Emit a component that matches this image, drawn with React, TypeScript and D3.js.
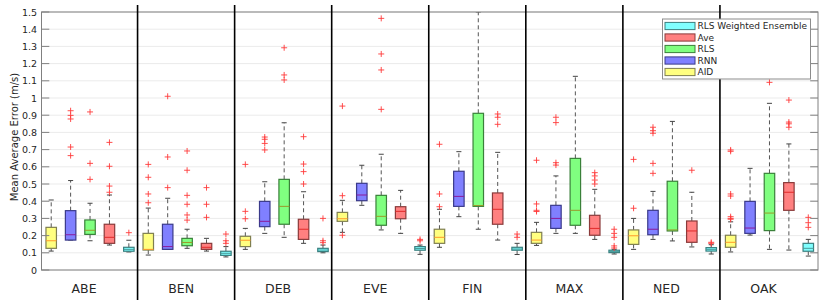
import React from 'react';
import * as d3 from 'd3';

// stations (groups) and methods (boxes inside each group)
const stations = ['ABE', 'BEN', 'DEB', 'EVE', 'FIN', 'MAX', 'NED', 'OAK'];
const methods = ['AID', 'RNN', 'RLS', 'Ave', 'RLS Weighted Ensemble'];
const yTicks = [0, 0.1, 0.2, 0.3, 0.4, 0.5, 0.6, 0.7, 0.8, 0.9, 1, 1.1, 1.2, 1.3, 1.4, 1.5];
const yTickLabels = ['0', '0.1', '0.2', '0.3', '0.4', '0.5', '0.6', '0.7', '0.8', '0.9', '1', '1.1', '1.2', '1.3', '1.4', '1.5'];

// [whisker low, q1, median, q3, whisker high] per station
const aidStats = [
  [0.11, 0.126, 0.17, 0.248, 0.407],
  [0.087, 0.116, 0.12, 0.213, 0.36],
  [0.12, 0.136, 0.173, 0.196, 0.242],
  [0.219, 0.283, 0.298, 0.335, 0.405],
  [0.132, 0.155, 0.19, 0.237, 0.353],
  [0.143, 0.155, 0.174, 0.219, 0.277],
  [0.12, 0.149, 0.199, 0.233, 0.3],
  [0.105, 0.132, 0.161, 0.202, 0.28],
];
const aidOutliers = [
  [],
  [0.614, 0.539, 0.442, 0.391],
  [0.614, 0.341, 0.298],
  [0.953, 0.432, 0.202],
  [0.731, 0.442, 0.368],
  [0.638, 0.384, 0.347, 0.34],
  [0.643, 0.359],
  [0.698, 0.69, 0.442, 0.43, 0.31, 0.3, 0.295],
];

const rnnStats = [
  [0.174, 0.174, 0.205, 0.345, 0.52],
  [0.12, 0.12, 0.136, 0.266, 0.417],
  [0.213, 0.252, 0.283, 0.399, 0.513],
  [0.376, 0.403, 0.436, 0.504, 0.609],
  [0.31, 0.37, 0.428, 0.574, 0.688],
  [0.213, 0.242, 0.3, 0.376, 0.547],
  [0.178, 0.205, 0.237, 0.347, 0.457],
  [0.203, 0.213, 0.244, 0.399, 0.591],
];
const rnnOutliers = [
  [0.926, 0.899, 0.878, 0.715, 0.665],
  [1.01, 0.657, 0.479],
  [0.773, 0.76, 0.736, 0.698],
  [],
  [],
  [0.888, 0.857, 0.624, 0.61],
  [0.83, 0.81, 0.795, 0.62, 0.562],
  [],
];

const rlsStats = [
  [0.17, 0.207, 0.231, 0.291, 0.388],
  [0.126, 0.141, 0.16, 0.184, 0.237],
  [0.19, 0.266, 0.37, 0.527, 0.856],
  [0.233, 0.26, 0.312, 0.434, 0.673],
  [0.237, 0.37, 0.375, 0.911, 1.5],
  [0.213, 0.26, 0.347, 0.649, 1.126],
  [0.169, 0.227, 0.233, 0.516, 0.864],
  [0.12, 0.229, 0.331, 0.562, 0.969],
];
const rlsOutliers = [
  [0.919, 0.62, 0.527],
  [0.692, 0.58, 0.434, 0.382, 0.32, 0.29],
  [1.292, 1.134, 1.105],
  [1.463, 1.256, 1.163, 0.934],
  [],
  [],
  [],
  [1.091],
];

const aveStats = [
  [0.145, 0.155, 0.19, 0.266, 0.436],
  [0.11, 0.12, 0.132, 0.155, 0.184],
  [0.155, 0.178, 0.237, 0.295, 0.455],
  [0.213, 0.298, 0.341, 0.368, 0.463],
  [0.174, 0.266, 0.353, 0.448, 0.684],
  [0.178, 0.202, 0.242, 0.318, 0.469],
  [0.134, 0.161, 0.227, 0.285, 0.452],
  [0.116, 0.347, 0.452, 0.508, 0.733],
];
const aveOutliers = [
  [0.742, 0.603, 0.488, 0.452],
  [0.479, 0.382, 0.306],
  [0.775, 0.616, 0.572, 0.5],
  [],
  [0.907, 0.888, 0.847],
  [0.566, 0.547, 0.523, 0.5],
  [0.58],
  [0.988, 0.86, 0.85, 0.83],
];

const rlswStats = [
  [0.105, 0.109, 0.12, 0.132, 0.173],
  [0.076, 0.085, 0.097, 0.109, 0.136],
  [0.1, 0.107, 0.116, 0.126, 0.145],
  [0.091, 0.115, 0.125, 0.136, 0.145],
  [0.09, 0.115, 0.122, 0.132, 0.155],
  [0.093, 0.101, 0.108, 0.115, 0.12],
  [0.093, 0.11, 0.12, 0.13, 0.147],
  [0.081, 0.109, 0.126, 0.155, 0.178],
];
const rlswOutliers = [
  [0.217],
  [0.209, 0.17, 0.155],
  [0.3, 0.17, 0.159],
  [0.178, 0.17],
  [0.209, 0.19],
  [0.237, 0.213, 0.19, 0.14, 0.128],
  [0.161, 0.155],
  [0.306, 0.275, 0.248],
];

const allStats = [aidStats, rnnStats, rlsStats, aveStats, rlswStats];
const allOutliers = [aidOutliers, rnnOutliers, rlsOutliers, aveOutliers, rlswOutliers];

const fills = ['#ffff80', '#8080ff', '#80ff80', '#ff8080', '#80ffff'];
const edges = ['#7f7f50', '#3a3a8a', '#3a803a', '#8a3a3a', '#3a7f7f'];
const medianColors = ['#ff9a2a', '#8a1a9a', '#9a9a2a', '#e02a2a', '#4a9a9a'];

const W = 830;
const H = 300;
const font = '"DejaVu Sans", sans-serif';

export default function App() {
  const nBox = stations.length * methods.length;
  const x = d3.scaleLinear().domain([0.5, nBox + 0.5]).range([41.5, 818]);
  const y = d3.scaleLinear().domain([0, 1.5]).range([270, 12]);
  const [x0, x1] = x.range();
  const [yb, yt] = y.range();
  const half = x(1.27) - x(1);
  const capHalf = x(1.13) - x(1);

  const boxes = stations.flatMap((st, g) =>
    methods.map((m, k) => ({
      pos: g * methods.length + k + 1,
      k,
      s: allStats[k][g],
      out: allOutliers[k][g],
    }))
  );

  const legendOrder = [4, 3, 2, 1, 0];

  return (
    <div style={{ position: 'fixed', left: 0, top: 0 }}>
      <svg width={W} height={H} style={{ display: 'block', fontFamily: font }}>
        <defs>
          <clipPath id="plot">
            <rect x={x0} y={yt} width={x1 - x0} height={yb - yt} />
          </clipPath>
        </defs>
        <rect x={0} y={0} width={W} height={H} fill="#fff" />

        {/* grid */}
        {yTicks.map(t => (
          <line key={'g' + t} x1={x0} x2={x1} y1={y(t)} y2={y(t)} stroke="#ebebeb" strokeWidth={1} />
        ))}

        {/* boxes */}
        <g clipPath="url(#plot)">
          {boxes.map(b => {
            const cx = x(b.pos);
            const [lo, q1, med, q3, hi] = b.s;
            return (
              <g key={b.pos}>
                <line x1={cx} x2={cx} y1={y(q3)} y2={y(hi)} stroke="#555" strokeWidth={1} strokeDasharray="4,3" />
                <line x1={cx} x2={cx} y1={y(q1)} y2={y(lo)} stroke="#555" strokeWidth={1} strokeDasharray="4,3" />
                <line x1={cx - capHalf} x2={cx + capHalf} y1={y(hi)} y2={y(hi)} stroke="#444" strokeWidth={1} />
                <line x1={cx - capHalf} x2={cx + capHalf} y1={y(lo)} y2={y(lo)} stroke="#444" strokeWidth={1} />
                <rect
                  x={cx - half}
                  y={y(q3)}
                  width={half * 2}
                  height={Math.max(1, y(q1) - y(q3))}
                  fill={fills[b.k]}
                  stroke={edges[b.k]}
                  strokeWidth={1.2}
                />
                <line x1={cx - half} x2={cx + half} y1={y(med)} y2={y(med)} stroke={medianColors[b.k]} strokeWidth={1} />
                {b.out.map((o, i) => (
                  <path
                    key={i}
                    d={`M${cx - 3},${y(o)}H${cx + 3}M${cx},${y(o) - 3}V${y(o) + 3}`}
                    stroke="#ff3a3a"
                    strokeWidth={0.9}
                    fill="none"
                  />
                ))}
              </g>
            );
          })}
        </g>

        {/* axes frame */}
        <rect x={x0} y={yt} width={x1 - x0} height={yb - yt} fill="none" stroke="#808080" strokeWidth={1} />
        {yTicks.map((t, i) => (
          <g key={'t' + t}>
            <line x1={x0} x2={x0 + 7.8} y1={y(t)} y2={y(t)} stroke="#808080" />
            <line x1={x1 - 7.8} x2={x1} y1={y(t)} y2={y(t)} stroke="#808080" />
            <text x={x0 - 4.5} y={y(t)} textAnchor="end" dominantBaseline="central" fontSize={9.5} fill="#262626">
              {yTickLabels[i]}
            </text>
          </g>
        ))}
        <text
          transform={`translate(14,${(yt + yb) / 2 - 4}) rotate(-90)`}
          textAnchor="middle"
          dominantBaseline="central"
          fontSize={10}
          fill="#262626"
        >
          Mean Average Error (m/s)
        </text>

        {/* group separators */}
        {stations.slice(1).map((_, g) => (
          <line
            key={'s' + g}
            x1={x((g + 1) * methods.length + 0.5) - 1}
            x2={x((g + 1) * methods.length + 0.5) - 1}
            y1={5}
            y2={H}
            stroke="#000"
            strokeWidth={1.6}
          />
        ))}

        {/* group labels */}
        {stations.map((st, g) => (
          <text key={st} x={x(g * methods.length + 3) - 6} y={293} textAnchor="middle" fontSize={12.5} fill="#262626">
            {st}
          </text>
        ))}

        {/* legend */}
        <g transform="translate(662.5,19)">
          <rect x={0} y={0} width={148} height={60} fill="#fff" stroke="#8c8c8c" strokeWidth={1} />
          {legendOrder.map((k, i) => (
            <g key={k} transform={`translate(0,${7 + i * 11.5})`}>
              <rect x={2.5} y={-3.6} width={30} height={7.2} fill={fills[k]} stroke={edges[k]} strokeWidth={1} />
              <text x={35} y={0} dominantBaseline="central" fontSize={9} fill="#262626">
                {methods[k]}
              </text>
            </g>
          ))}
        </g>
      </svg>
    </div>
  );
}
